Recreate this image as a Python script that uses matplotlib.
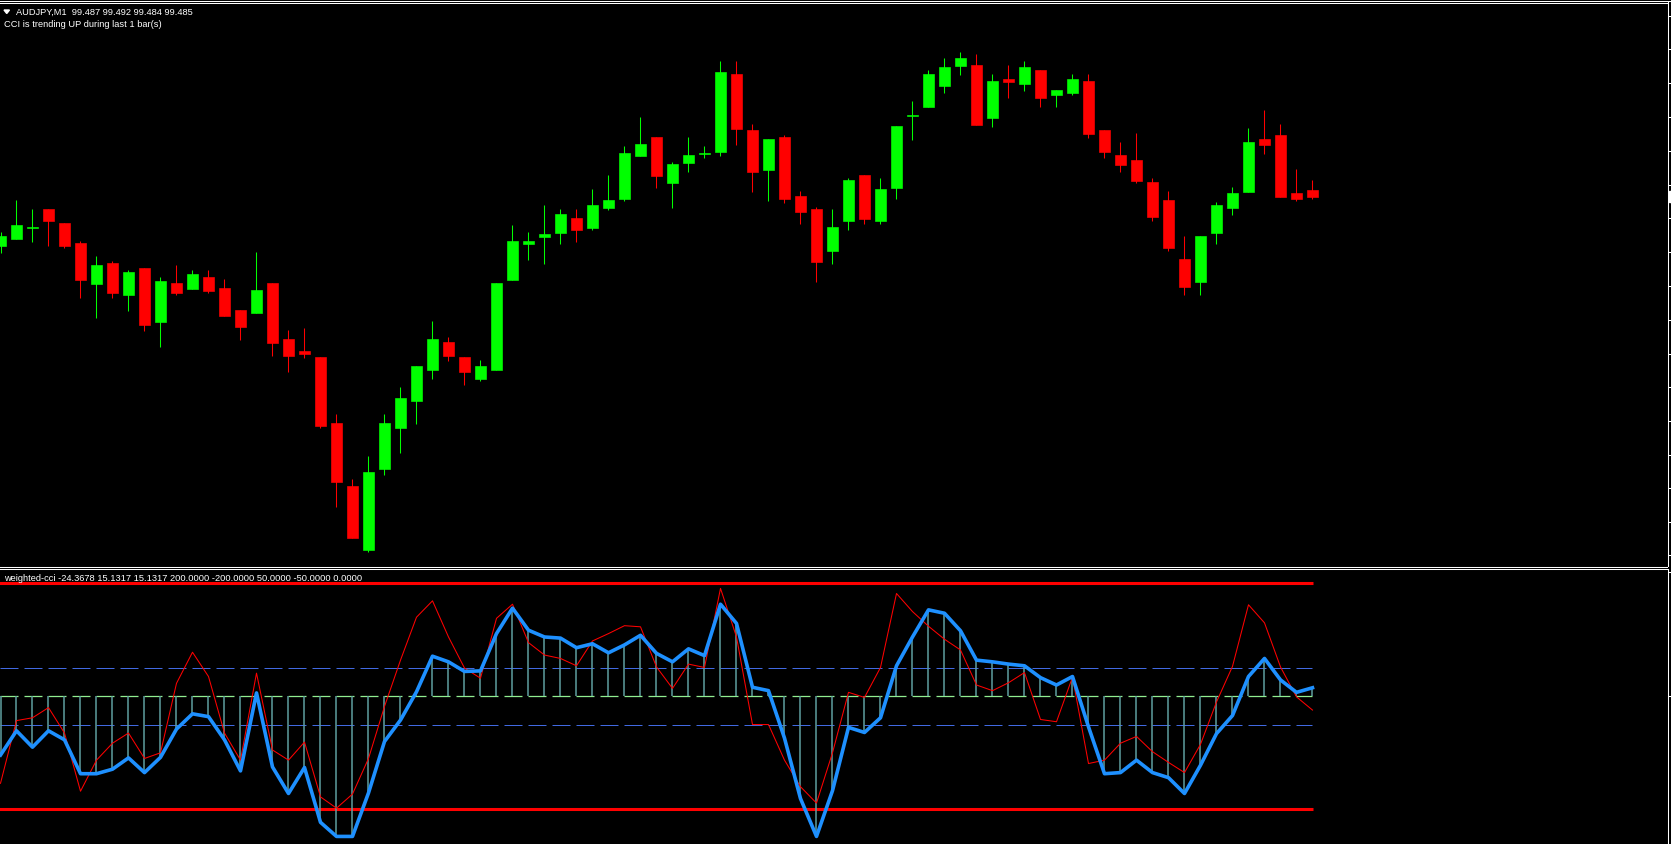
import matplotlib
matplotlib.use("Agg")
import matplotlib.pyplot as plt
from matplotlib.patches import Polygon, Rectangle
from matplotlib.lines import Line2D
import numpy as np

# ---------------- data ----------------
header_text = "AUDJPY,M1  99.487 99.492 99.484 99.485"
status_text = "CCI is trending UP during last 1 bar(s)"

open_ = [99.4703, 99.4724, 99.4757, 99.4813, 99.4771, 99.4711, 99.4589, 99.4651, 99.4556, 99.4636,
         99.4475, 99.4591, 99.4574, 99.4609, 99.4576, 99.4510, 99.4502, 99.4591, 99.4423, 99.4387,
         99.4369, 99.4171, 99.3982, 99.3791, 99.4034, 99.4157, 99.4238, 99.4331, 99.4414, 99.4369,
         99.4304, 99.4331, 99.4601, 99.4709, 99.4730, 99.4742, 99.4786, 99.4757, 99.4817, 99.4844,
         99.4973, 99.5029, 99.4892, 99.4952, 99.4979, 99.4985, 99.5218, 99.5050, 99.4931, 99.5029,
         99.4852, 99.4813, 99.4688, 99.4778, 99.4915, 99.4778, 99.4877, 99.5093, 99.5120, 99.5183,
         99.5243, 99.5245, 99.5087, 99.5203, 99.5189, 99.5230, 99.5156, 99.5162, 99.5197, 99.5050,
         99.4975, 99.4960, 99.4894, 99.4840, 99.4663, 99.4595, 99.4742, 99.4817, 99.4865, 99.5023,
         99.5035, 99.4861, 99.4870]
high = [99.4745, 99.4840, 99.4813, 99.4813, 99.4771, 99.4717, 99.4672, 99.4657, 99.4630, 99.4636,
        99.4609, 99.4645, 99.4630, 99.4630, 99.4603, 99.4510, 99.4684, 99.4591, 99.4450, 99.4456,
        99.4369, 99.4198, 99.4003, 99.4072, 99.4198, 99.4279, 99.4342, 99.4477, 99.4429, 99.4369,
        99.4360, 99.4591, 99.4765, 99.4744, 99.4825, 99.4813, 99.4813, 99.4873, 99.4915, 99.5002,
        99.5089, 99.5029, 99.4954, 99.5029, 99.5002, 99.5257, 99.5257, 99.5068, 99.5023, 99.5035,
        99.4867, 99.4819, 99.4813, 99.4906, 99.4915, 99.4906, 99.5062, 99.5137, 99.5230, 99.5266,
        99.5284, 99.5278, 99.5218, 99.5245, 99.5257, 99.5230, 99.5170, 99.5218, 99.5218, 99.5050,
        99.5014, 99.5041, 99.4906, 99.4867, 99.4732, 99.4732, 99.4834, 99.4879, 99.5056, 99.5110,
        99.5068, 99.4933, 99.4900]
low = [99.4682, 99.4724, 99.4715, 99.4703, 99.4697, 99.4547, 99.4487, 99.4547, 99.4508, 99.4448,
       99.4400, 99.4556, 99.4574, 99.4562, 99.4493, 99.4421, 99.4502, 99.4373, 99.4325, 99.4367,
       99.4157, 99.3920, 99.3827, 99.3785, 99.4016, 99.4082, 99.4169, 99.4304, 99.4358, 99.4286,
       99.4298, 99.4331, 99.4601, 99.4661, 99.4649, 99.4709, 99.4715, 99.4751, 99.4811, 99.4838,
       99.4973, 99.4877, 99.4817, 99.4925, 99.4967, 99.4973, 99.5006, 99.4865, 99.4838, 99.4832,
       99.4769, 99.4595, 99.4649, 99.4751, 99.4769, 99.4769, 99.4844, 99.5021, 99.5120, 99.5162,
       99.5216, 99.5066, 99.5060, 99.5147, 99.5168, 99.5120, 99.5120, 99.5156, 99.5027, 99.4967,
       99.4925, 99.4892, 99.4778, 99.4688, 99.4556, 99.4556, 99.4709, 99.4796, 99.4865, 99.4979,
       99.4850, 99.4838, 99.4844]
close = [99.4732, 99.4765, 99.4759, 99.4778, 99.4703, 99.4601, 99.4645, 99.4561, 99.4624, 99.4466,
         99.4597, 99.4562, 99.4618, 99.4568, 99.4493, 99.4460, 99.4570, 99.4412, 99.4373, 99.4379,
         99.4163, 99.3995, 99.3827, 99.4024, 99.4171, 99.4246, 99.4342, 99.4423, 99.4373, 99.4325,
         99.4342, 99.4591, 99.4717, 99.4717, 99.4738, 99.4798, 99.4751, 99.4825, 99.4840, 99.4981,
         99.5008, 99.4913, 99.4948, 99.4975, 99.4981, 99.5224, 99.5054, 99.4925, 99.5023, 99.4844,
         99.4805, 99.4655, 99.4759, 99.4900, 99.4784, 99.4873, 99.5062, 99.5095, 99.5218, 99.5239,
         99.5266, 99.5066, 99.5197, 99.5195, 99.5239, 99.5147, 99.5170, 99.5203, 99.5039, 99.4985,
         99.4946, 99.4898, 99.4790, 99.4697, 99.4580, 99.4732, 99.4825, 99.4861, 99.5014, 99.5006,
         99.4850, 99.4844, 99.4850]

# weighted CCI (thick blue line, also drawn as histogram)
cci_main = [-104, -61, -90, -61, -77, -137, -137, -129, -109, -135,
            -108, -58, -31, -36, -77, -132, 6, -125, -172, -126,
            -223, -248, -248, -171, -80, -42, 8, 71, 61, 44,
            45, 111, 156, 117, 105, 103, 86, 93, 77, 91,
            108, 76, 61, 84, 72, 163, 129, 16, 10, -74,
            -181, -248, -167, -55, -64, -38, 54, 105, 153, 147,
            116, 64, 61, 57, 54, 33, 20, 35, -54, -137,
            -135, -113, -135, -144, -172, -122, -66, -34, 35, 67,
            29, 7, 15.1317]
# fast CCI (thin red line)
cci_signal = [-154, -43, -38, -20, -65, -168, -113, -83, -65, -110,
              -100, 23, 78, 35, -65, -113, 41, -95, -113, -81,
              -178, -198, -173, -110, -18, 64, 140, 169, 105, 50,
              32, 138, 163, 95, 73, 67, 54, 98, 111, 125,
              123, 52, 14, 57, 51, 191, 105, -50, -50, -113,
              -160, -189, -100, 7, -2, 51, 182, 150, 124, 101,
              82, 20, 10, 24, 42, -41, -45, 34, -119, -113,
              -83, -71, -98, -117, -135, -85, -10, 53, 162, 130,
              52, -1, -24.3678]

levels_outer = [200.0, -200.0]
levels_inner = [50.0, -50.0]
level_zero = 0.0

price_ticks = [99.5392, 99.5292, 99.5191, 99.5089, 99.4987, 99.4885, 99.4785, 99.4684, 99.4582,
               99.4480, 99.4378, 99.4278, 99.4177, 99.4075, 99.3976, 99.3874, 99.3775]
ind_ticks = [220.7, 0.0]
last_price = 99.485

# ---------------- figure ----------------
W, H = 1671, 844
fig = plt.figure(figsize=(W / 100, H / 100), dpi=100, facecolor="black")


def fx(px):
    return px / W


def fy(py):
    return 1 - py / H


FONT = "Liberation Sans"
FS = 6.7

# main price panel
ax = fig.add_axes([0, fy(566.5), fx(1667.5), fy(2.5) - fy(566.5)])
ax.set_facecolor("black")
n = len(close)
x = np.arange(n)
ax.set_xlim(-0.03125, 104.1875)
ax.set_ylim(99.37405, 99.54325)

o = np.array(open_)
c = np.array(close)
colors = ["#00ff00" if cc >= oo else "#ff0000" for oo, cc in zip(o, c)]
ax.vlines(x, low, high, colors=colors, linewidth=0.75, zorder=2)
ax.bar(x, np.abs(c - o), bottom=np.minimum(o, c), width=10.4 / 16, color=colors,
       edgecolor=colors, linewidth=0.45, zorder=3)

for side in ["left"]:
    ax.spines[side].set_visible(False)
for side in ["top", "right", "bottom"]:
    ax.spines[side].set_color("white")
    ax.spines[side].set_linewidth(0.75)
ax.set_xticks([])
ax.yaxis.tick_right()
ax.set_yticks(price_ticks)
ax.tick_params(axis="y", direction="out", length=3.5, width=0.75, colors="white",
               labelright=False, right=True, left=False)

# indicator panel
ax2 = fig.add_axes([0, 0, fx(1667.5), fy(568.5)])
ax2.set_facecolor("black")
ax2.set_xlim(-0.03125, 104.1875)
ax2.set_ylim(-261.4, 226.2)

x_end = n - 1
ax2.hlines(levels_outer, -0.5, x_end + 0.06, colors="#ff0000", linewidth=2.2, zorder=2)
for lv in levels_inner:
    ax2.plot([-0.03125, x_end], [lv, lv], color="#4169e1", linewidth=0.72,
             dashes=(18, 6), zorder=2)
ax2.plot([-0.03125, x_end], [level_zero, level_zero], color="#90ee90", linewidth=0.9,
         dashes=(14.4, 4.8), zorder=2)
ax2.vlines(x, level_zero, cci_main, colors="#5f9ea0", linewidth=1.1, zorder=3)
ax2.plot(x, cci_signal, color="#ff0000", linewidth=0.75, zorder=4)
ax2.plot(x, cci_main, color="#1e90ff", linewidth=2.6, zorder=5)

ax2.spines["left"].set_visible(False)
ax2.spines["bottom"].set_visible(False)
for side in ["top", "right"]:
    ax2.spines[side].set_color("white")
    ax2.spines[side].set_linewidth(0.75)
ax2.set_xticks([])
ax2.yaxis.tick_right()
ax2.set_yticks(ind_ticks)
ax2.tick_params(axis="y", direction="out", length=3.5, width=0.75, colors="white",
                labelright=False, right=True, left=False)

# top frame line
fig.add_artist(Line2D([0, 1], [fy(0.5), fy(0.5)], color="white", linewidth=0.75))

# texts
fig.patches.append(Polygon([[fx(4), fy(10)], [fx(9.5), fy(10)], [fx(6.75), fy(13.5)]],
                           closed=True, transform=fig.transFigure, color="white"))
fig.text(fx(16), fy(14.7), header_text, color="white", fontsize=FS, family=FONT, va="baseline")
fig.text(fx(4), fy(27.3), status_text, color="white", fontsize=FS, family=FONT, va="baseline")
label = "weighted-cci {:.4f} {:.4f} {:.4f} {:.4f} {:.4f} {:.4f} {:.4f} {:.4f}".format(
    cci_signal[-1], cci_main[-1], cci_main[-1], levels_outer[0], levels_outer[1],
    levels_inner[0], levels_inner[1], level_zero)
fig.text(fx(4), fy(580.7), label, color="white", fontsize=FS, family=FONT, va="baseline", zorder=10)

# current price marker (cut at right edge)
yp = ax.transData.transform((0, last_price))[1]
fig.patches.append(Rectangle((fx(1668.5), (yp - 5.5) / H), fx(3), 11 / H,
                             transform=fig.transFigure, color="white"))

fig.savefig("out.png", dpi=100, facecolor="black")
